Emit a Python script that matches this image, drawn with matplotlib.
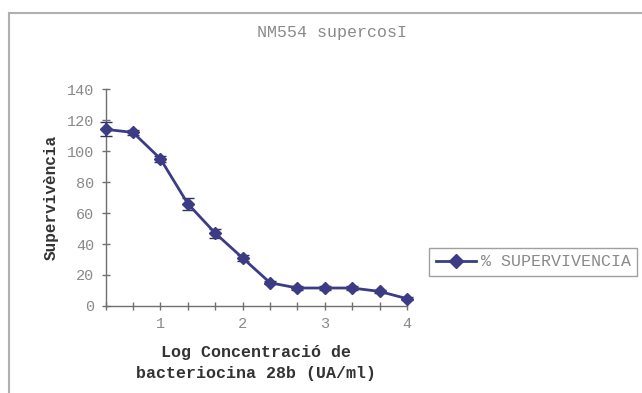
import matplotlib
matplotlib.use("Agg")
import matplotlib.pyplot as plt
from matplotlib.patches import Rectangle
from matplotlib.lines import Line2D

# log concentration (thirds of a decade) and % survival
log_conc = [1/3, 2/3, 1.0, 4/3, 5/3, 2.0, 7/3, 8/3, 3.0, 10/3, 11/3, 4.0]
survival = [114, 112, 95, 66, 47, 31, 15, 11.6, 11.6, 11.6, 9.4, 4.7]
errors = [4.5, 1.5, 2, 4, 3, 2, 1, 1, 1, 1, 1, 1]
x_labels = ["", "", "1", "", "", "2", "", "", "3", "", "", "4"]
y_ticks = [0, 20, 40, 60, 80, 100, 120, 140]

font = "Liberation Mono"
line_col = "#3b3b86"
grey = "#8a8a8a"

fig = plt.figure(figsize=(6.42, 3.93), dpi=100, facecolor="white")
ax = fig.add_axes([0.1645, 0.2214, 0.4695, 0.552])

# chart area frame (cut off at right / bottom like the scan)
fig.patches.append(Rectangle((9 / 642, -0.1), 1.2, 1 - 13 / 393 + 0.1,
                             transform=fig.transFigure, fill=False,
                             edgecolor="#b0b0b0", linewidth=1.5))

ax.errorbar(log_conc, survival, yerr=errors, color=line_col, linewidth=2,
            marker="D", markersize=6, markerfacecolor=line_col,
            markeredgecolor=line_col, ecolor="#333355", elinewidth=1.2,
            capsize=4, clip_on=False, zorder=3)

ax.set_xlim(1/3, 4)
ax.set_ylim(0, 140)
ax.set_xticks(log_conc)
ax.set_xticklabels(x_labels, fontfamily=font, fontsize=11, color=grey)
ax.set_yticks(y_ticks)
ax.set_yticklabels([str(v) for v in y_ticks], fontfamily=font, fontsize=11,
                   color=grey)
ax.tick_params(direction="inout", length=6, width=1, color="#707070", pad=5)

for side in ["top", "right"]:
    ax.spines[side].set_visible(False)
for side in ["left", "bottom"]:
    ax.spines[side].set_color("#707070")
    ax.spines[side].set_linewidth(1)

ax.set_ylabel("Supervivència", fontfamily=font, fontsize=11.5,
              fontweight="bold", color="#333333", labelpad=6)
ax.set_xlabel("Log Concentració de\nbacteriocina 28b (UA/ml)",
              fontfamily=font, fontsize=12, fontweight="bold",
              color="#333333", labelpad=10, linespacing=1.5)

fig.text(332 / 642, 1 - 33 / 393, "NM554 supercosI", fontfamily=font,
         fontsize=12, color=grey, ha="center", va="center")

handle = Line2D([], [], color=line_col, linewidth=2, marker="D",
                markersize=7, markerfacecolor=line_col)
leg = ax.legend([handle], ["% SUPERVIVENCIA"], loc="center left",
                bbox_to_anchor=(429 / 642, 1 - 262 / 393),
                bbox_transform=fig.transFigure, frameon=True, fancybox=False,
                prop={"family": font, "size": 12}, handlelength=2.4,
                handletextpad=0.3, borderpad=0.4, borderaxespad=0,
                labelcolor=grey)
leg.get_frame().set_edgecolor("#888888")
leg.get_frame().set_linewidth(1)

fig.savefig("out.png", dpi=100, facecolor="white")
